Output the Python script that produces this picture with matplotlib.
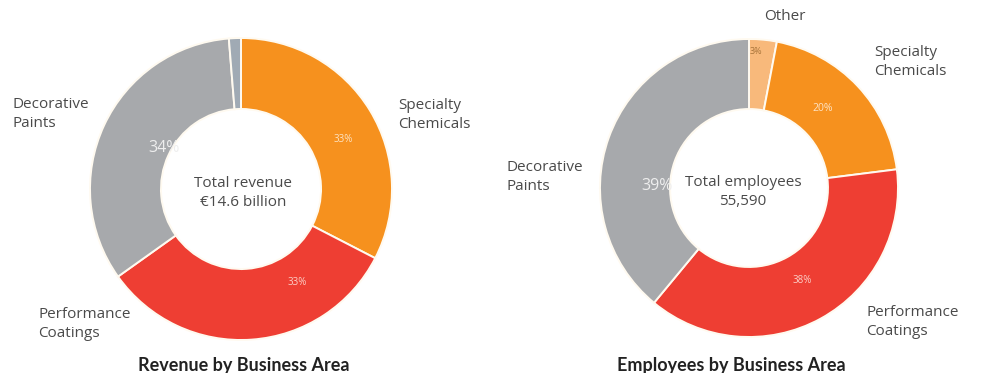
"""Two donut charts: revenue and employees by business area."""
import matplotlib
matplotlib.use("Agg")
import matplotlib.pyplot as plt
import numpy as np

# --- data -----------------------------------------------------------------
revenue_areas = ["Specialty Chemicals", "Performance Coatings", "Decorative Paints", "Other"]
revenue_share = [33, 33, 34, 1.3]
revenue_labels = ["33%", "33%", "34%", ""]

employee_areas = ["Other", "Specialty Chemicals", "Performance Coatings", "Decorative Paints"]
employee_share = [3, 20, 38, 39]
employee_labels = ["3%", "20%", "38%", "39%"]

# --- style ----------------------------------------------------------------
W, H = 981, 373
FONT = "Open Sans"
TXT = "#4a4a4a"
ORANGE, RED, GRAY, PEACH, SLIVER = "#f6911e", "#ee3e33", "#a7a9ac", "#f8b97b", "#a0aab4"

fig = plt.figure(figsize=(W / 100, H / 100), dpi=100)
fig.patch.set_facecolor("white")


def px(x, y):
    return x / W, 1 - y / H


def donut(cx, cy, r, values, colors, pct, pct_pos, pct_style):
    lim = 1.12
    side = 2 * r * lim
    ax = fig.add_axes([(cx - side / 2) / W, 1 - (cy + side / 2) / H, side / W, side / H])
    ax.pie(values, colors=colors, startangle=90, counterclock=False,
           radius=1.0, wedgeprops=dict(width=0.47, edgecolor="#fffaf0", linewidth=1.4))
    ax.set_xlim(-lim, lim)
    ax.set_ylim(-lim, lim)
    ax.set_aspect("auto")
    for text, (ang, rad), (size, col) in zip(pct, pct_pos, pct_style):
        if not text:
            continue
        a = np.deg2rad(ang)
        ax.text(rad * np.cos(a), rad * np.sin(a), text, ha="center", va="center",
                fontsize=size, color=col, family=FONT)
    return ax


# left: revenue
donut(241, 189, 151, revenue_share, [ORANGE, RED, GRAY, SLIVER], revenue_labels,
      [(26, 0.75), (-59, 0.72), (152, 0.58), (0, 0)],
      [(7, "#fde3c4"), (7, "#fbd0c8"), (11.5, "#eeeeee"), (7, "white")])

# right: employees
donut(749, 188, 149, employee_share, [PEACH, ORANGE, RED, GRAY], employee_labels,
      [(87, 0.92), (47, 0.73), (-60, 0.72), (179, 0.62)],
      [(6.5, "#a8743a"), (7.5, "#fde3c4"), (7, "#fbd0c8"), (11.5, "#eeeeee")])

label_kw = dict(fontsize=11, color=TXT, family=FONT, linespacing=1.45, va="center")
title_kw = dict(ha="center", va="center", fontsize=13, fontweight="bold",
                color="#222222", family="Lato")

# left annotations
fig.text(*px(12, 114), "Decorative\nPaints", ha="left", **label_kw)
fig.text(*px(398, 115), "Specialty\nChemicals", ha="left", **label_kw)
fig.text(*px(38, 324), "Performance\nCoatings", ha="left", **label_kw)
fig.text(*px(243, 193), "Total revenue\n€14.6 billion", ha="center", **label_kw)
fig.text(*px(244, 366), "Revenue by Business Area", **title_kw)

# right annotations
fig.text(*px(785, 17), "Other", ha="center", **label_kw)
fig.text(*px(874, 62), "Specialty\nChemicals", ha="left", **label_kw)
fig.text(*px(506, 177), "Decorative\nPaints", ha="left", **label_kw)
fig.text(*px(866, 322), "Performance\nCoatings", ha="left", **label_kw)
fig.text(*px(743, 192), "Total employees\n55,590", ha="center", **label_kw)
fig.text(*px(731, 366), "Employees by Business Area", **title_kw)

fig.savefig("out.png", dpi=100)
